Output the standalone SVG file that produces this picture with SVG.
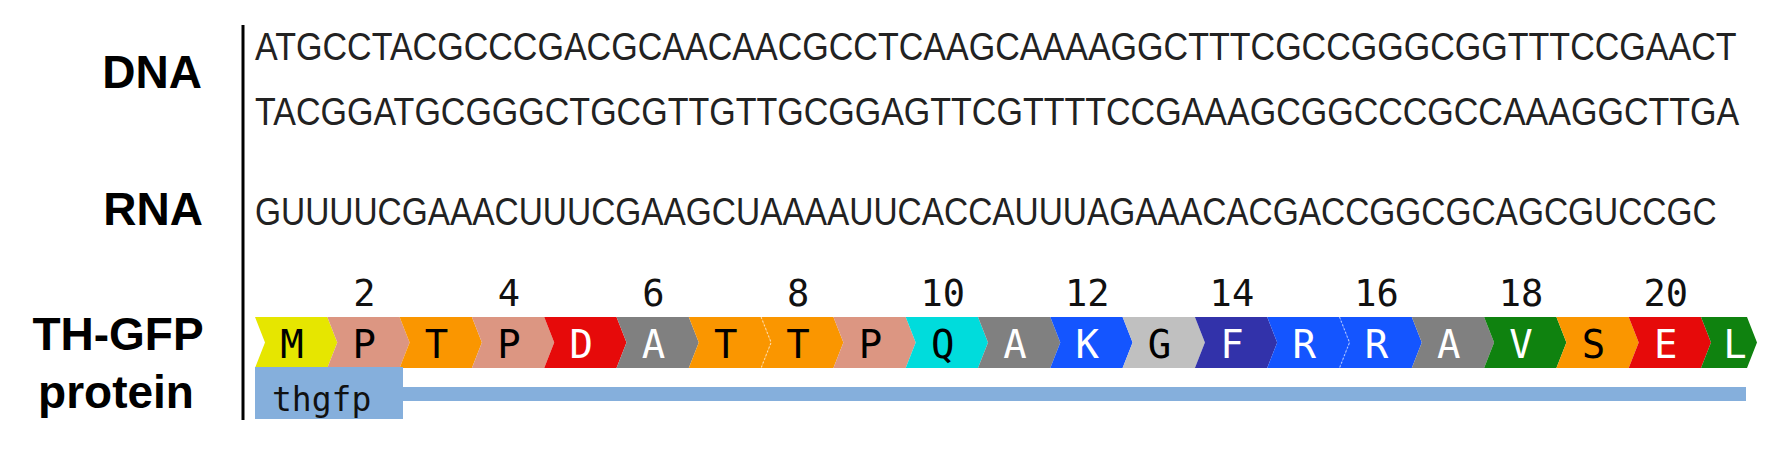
<svg xmlns="http://www.w3.org/2000/svg" xmlns:xlink="http://www.w3.org/1999/xlink" width="1787" height="454" viewBox="0 0 1787 454">
<style>
.lbl{font-family:"Liberation Sans",Arial,sans-serif;font-weight:bold;font-size:46px;fill:#000}
.seq{font-family:"Liberation Sans",Arial,sans-serif;font-size:39px;fill:#222}
.aa{font-family:"DejaVu Sans Mono","Liberation Mono",monospace;font-size:39px;text-anchor:middle}
.num{font-family:"DejaVu Sans Mono","Liberation Mono",monospace;font-size:37px;text-anchor:middle;fill:#111}
.dk{fill:#000}.wt{fill:#fff}
.sep{fill:none;stroke:#fff;stroke-opacity:0.55;stroke-width:1.2;stroke-dasharray:2 2}
</style>
<defs>
<path id="seg" d="M0,0 H72.3 L82.3,25.5 L72.3,51 H0 L10,25.5 Z"/>
</defs>
<rect width="1787" height="454" fill="#fff"/>

<g id="labels">
<text class="lbl" x="202" y="88" text-anchor="end">DNA</text>
<text class="lbl" x="203" y="225" text-anchor="end">RNA</text>
<text class="lbl" x="118" y="350" text-anchor="middle">TH-GFP</text>
<text class="lbl" x="116" y="408" text-anchor="middle">protein</text>
</g>

<g id="connectors">
<line x1="243" y1="25" x2="243" y2="420" stroke="#000" stroke-width="3"/>
</g>

<g id="dna">
<text class="seq" transform="translate(255,60) scale(0.87,1)" x="0" y="0" textLength="1703" lengthAdjust="spacingAndGlyphs">ATGCCTACGCCCGACGCAACAACGCCTCAAGCAAAAGGCTTTCGCCGGGCGGTTTCCGAACT</text>
<text class="seq" transform="translate(255,125) scale(0.87,1)" x="0" y="0" textLength="1706" lengthAdjust="spacingAndGlyphs">TACGGATGCGGGCTGCGTTGTTGCGGAGTTCGTTTTCCGAAAGCGGCCCGCCAAAGGCTTGA</text>
</g>

<g id="rna">
<text class="seq" transform="translate(255,225) scale(0.87,1)" x="0" y="0" textLength="1680" lengthAdjust="spacingAndGlyphs">GUUUUCGAAACUUUCGAAGCUAAAAUUCACCAUUUAGAAACACGACCGGCGCAGCGUCCGC</text>
</g>

<g id="protein">
<g id="residues">
<use xlink:href="#seg" x="255" y="317" fill="#E6E600"/>
<use xlink:href="#seg" x="327.3" y="317" fill="#DC9682"/>
<use xlink:href="#seg" x="399.6" y="317" fill="#FA9600"/>
<use xlink:href="#seg" x="471.9" y="317" fill="#DC9682"/>
<use xlink:href="#seg" x="544.2" y="317" fill="#E60A0A"/>
<use xlink:href="#seg" x="616.5" y="317" fill="#808080"/>
<use xlink:href="#seg" x="688.8" y="317" fill="#FA9600"/>
<use xlink:href="#seg" x="761.1" y="317" fill="#FA9600"/>
<use xlink:href="#seg" x="833.4" y="317" fill="#DC9682"/>
<use xlink:href="#seg" x="905.7" y="317" fill="#00DCDC"/>
<use xlink:href="#seg" x="978" y="317" fill="#808080"/>
<use xlink:href="#seg" x="1050.3" y="317" fill="#1455FF"/>
<use xlink:href="#seg" x="1122.6" y="317" fill="#C0C0C0"/>
<use xlink:href="#seg" x="1194.9" y="317" fill="#3232AA"/>
<use xlink:href="#seg" x="1267.2" y="317" fill="#1455FF"/>
<use xlink:href="#seg" x="1339.5" y="317" fill="#1455FF"/>
<use xlink:href="#seg" x="1411.8" y="317" fill="#808080"/>
<use xlink:href="#seg" x="1484.1" y="317" fill="#0F820F"/>
<use xlink:href="#seg" x="1556.4" y="317" fill="#FA9600"/>
<use xlink:href="#seg" x="1628.7" y="317" fill="#E60A0A"/>
<path d="M1701,317 H1747 L1757,342.5 L1747,368 H1701 L1711,342.5 Z" fill="#0F820F"/>
<path class="sep" d="M761.1,317 L771.1,342.5 L761.1,368"/>
<path class="sep" d="M1339.5,317 L1349.5,342.5 L1339.5,368"/>
</g>
<g id="residue-letters">
<text class="aa dk" x="292" y="358">M</text>
<text class="aa dk" x="364.3" y="358">P</text>
<text class="aa dk" x="436.6" y="358">T</text>
<text class="aa dk" x="508.9" y="358">P</text>
<text class="aa wt" x="581.2" y="358">D</text>
<text class="aa wt" x="653.5" y="358">A</text>
<text class="aa dk" x="725.8" y="358">T</text>
<text class="aa dk" x="798.1" y="358">T</text>
<text class="aa dk" x="870.4" y="358">P</text>
<text class="aa dk" x="942.7" y="358">Q</text>
<text class="aa wt" x="1015" y="358">A</text>
<text class="aa wt" x="1087.3" y="358">K</text>
<text class="aa dk" x="1159.6" y="358">G</text>
<text class="aa wt" x="1231.9" y="358">F</text>
<text class="aa wt" x="1304.2" y="358">R</text>
<text class="aa wt" x="1376.5" y="358">R</text>
<text class="aa wt" x="1448.8" y="358">A</text>
<text class="aa wt" x="1521.1" y="358">V</text>
<text class="aa dk" x="1593.4" y="358">S</text>
<text class="aa wt" x="1665.7" y="358">E</text>
<text class="aa wt" x="1735" y="358">L</text>
</g>
<g id="residue-numbers">
<text class="num" x="364.3" y="306">2</text>
<text class="num" x="508.9" y="306">4</text>
<text class="num" x="653.5" y="306">6</text>
<text class="num" x="798.1" y="306">8</text>
<text class="num" x="942.7" y="306">10</text>
<text class="num" x="1087.3" y="306">12</text>
<text class="num" x="1231.9" y="306">14</text>
<text class="num" x="1376.5" y="306">16</text>
<text class="num" x="1521.1" y="306">18</text>
<text class="num" x="1665.7" y="306">20</text>
</g>
</g>

<g id="feature-thgfp">
<rect x="403" y="387" width="1343" height="14" fill="#85AFDC"/>
<rect x="255" y="367" width="148" height="52" fill="#85AFDC"/>
<text x="272" y="411" font-family="DejaVu Sans Mono,Liberation Mono,monospace" font-size="33" fill="#111">thgfp</text>
</g>
</svg>
